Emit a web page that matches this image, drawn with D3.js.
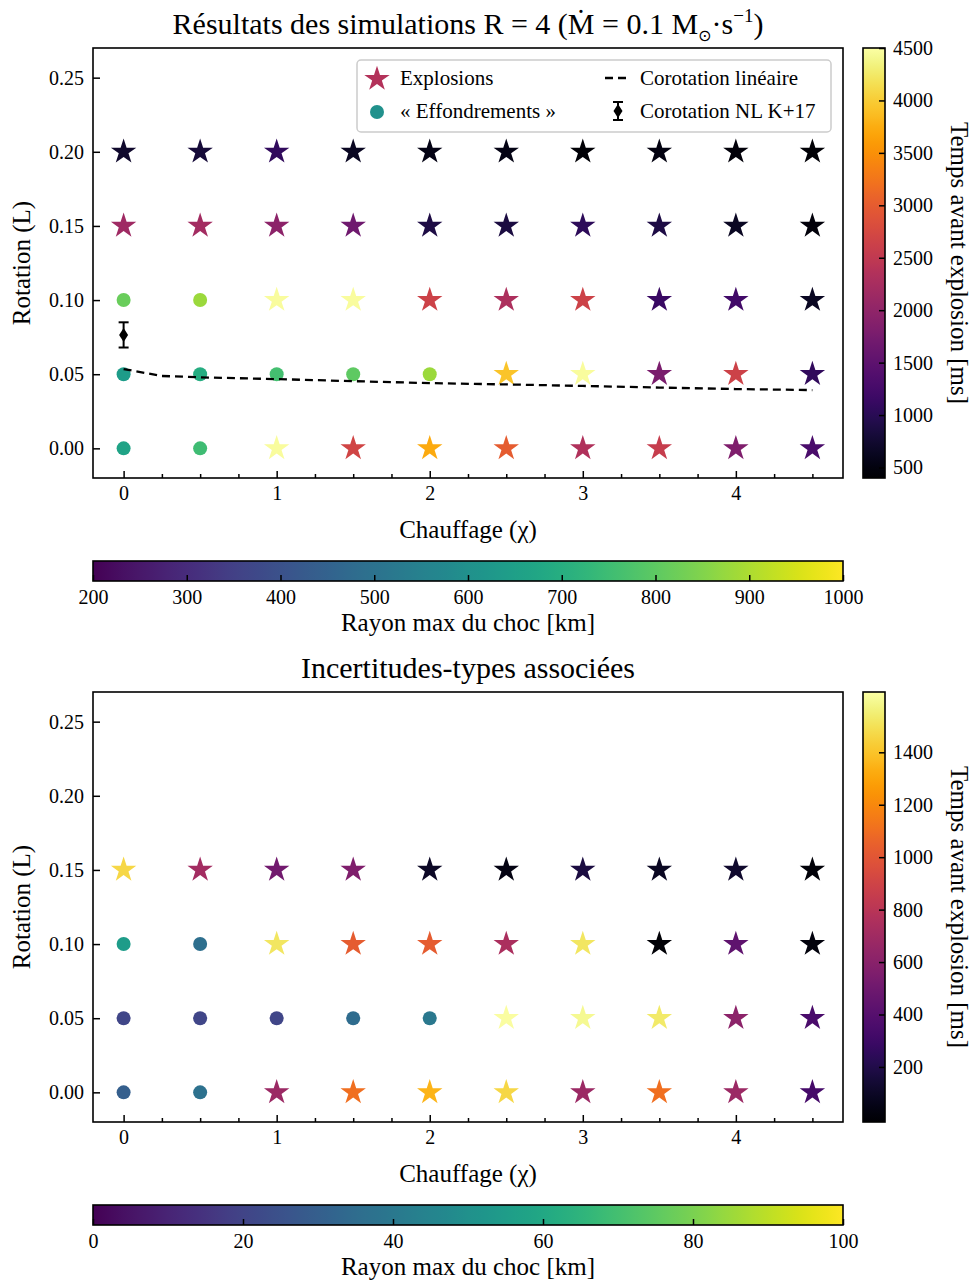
<!DOCTYPE html>
<html><head><meta charset="utf-8">
<script src="https://cdn.jsdelivr.net/npm/d3@7"></script>
<style>
body{margin:0;background:#fff}
text{font-family:"Liberation Serif","DejaVu Serif",serif;fill:#000}
</style>
</head><body><svg id="c" width="976" height="1282" xmlns="http://www.w3.org/2000/svg"></svg>
<script>
// ---------------- data ----------------
const chauffage = [0, 0.5, 1, 1.5, 2, 2.5, 3, 3.5, 4, 4.5];
const rotationTop = [0, 0.05, 0.10, 0.15, 0.20];
const rotationBottom = [0, 0.05, 0.10, 0.15];

// Time before explosion [ms] (null = collapse), rows follow rotationTop
const topTime = [
  [null, null, 4460, 2700, 3720, 2980, 2330, 2570, 1835, 1300],
  [null, null, null, null, null, 3930, 4460, 1790, 2655, 1060],
  [null, null, 4460, 4460, 2655, 2290, 2650, 1140, 1220, 650],
  [2160, 2200, 1960, 1670, 890, 850, 1035, 890, 650, 480],
  [730, 810, 1060, 650, 560, 560, 440, 520, 480, 440]
];
// Max shock radius [km] for collapses
const topShock = [
  [664, 752, null, null, null, null, null, null, null, null],
  [640, 696, 760, 800, 880, null, null, null, null, null],
  [816, 880, null, null, null, null, null, null, null, null],
  [null, null, null, null, null, null, null, null, null, null],
  [null, null, null, null, null, null, null, null, null, null]
];
// Uncertainties, rows follow rotationBottom
const botTime = [
  [null, null, 680, 1105, 1351, 1466, 680, 1105, 680, 335],
  [null, null, null, null, null, 1622, 1597, 1532, 613, 350],
  [null, null, 1515, 1023, 1023, 745, 1515, 6, 433, 23],
  [1466, 712, 515, 564, 105, 47, 170, 88, 121, 15]
];
const botShock = [
  [30, 37, null, null, null, null, null, null, null, null],
  [21, 21, 21, 35, 40, null, null, null, null, null],
  [55, 36, null, null, null, null, null, null, null, null],
  [null, null, null, null, null, null, null, null, null, null]
];

const corotX = [0, 0.25, 0.5, 1, 1.5, 2, 2.5, 3, 3.5, 4, 4.5];
const corotY = [0.0535, 0.0488, 0.0479, 0.0467, 0.0453, 0.0440, 0.0431, 0.0421, 0.0410, 0.0400, 0.0393];
const nlX = [0], nlY = [0.0765], nlErr = [0.0085];

const yTicks = [0, 0.05, 0.10, 0.15, 0.20, 0.25];
const xTicks = [0, 1, 2, 3, 4];
const xMinor = [0.25, 0.5, 0.75, 1.25, 1.5, 1.75, 2.25, 2.5, 2.75, 3.25, 3.5, 3.75, 4.25, 4.5];
const timeTicksTop = [500, 1000, 1500, 2000, 2500, 3000, 3500, 4000, 4500];
const timeTicksBot = [200, 400, 600, 800, 1000, 1200, 1400];
const shockTicksTop = [200, 300, 400, 500, 600, 700, 800, 900, 1000];
const shockTicksBot = [0, 20, 40, 60, 80, 100];

// ---------------- drawing ----------------
const svg = d3.select("#c");
const L = 93, R = 843;
const x = d3.scaleLinear([-0.2, 4.7], [L, R]);
const starSym = d3.symbol(d3.symbolStar, 200);
const TICKF = 20, LABF = 25;

function gradient(id, interp, horizontal) {
  const g = svg.append("defs").append("linearGradient").attr("id", id)
    .attr("x1", 0).attr("y1", horizontal ? 0 : 1).attr("x2", horizontal ? 1 : 0).attr("y2", 0);
  d3.range(0, 1.0001, 0.02).forEach(t => g.append("stop").attr("offset", t).attr("stop-color", interp(t)));
}
gradient("inf", d3.interpolateInferno, false);
gradient("vir", d3.interpolateViridis, true);

function panel(opt) {
  const {top, bottom, rows, times, shocks, tColor, sColor, tTicks, sTicks, cbTop, cbBot} = opt;
  const y = d3.scaleLinear([-0.02, 0.27], [bottom, top]);
  const g = svg.append("g");

  // markers
  rows.forEach((r, i) => {
    chauffage.forEach((c, j) => {
      const tv = times[i][j], sv = shocks[i][j];
      if (tv !== null) {
        g.append("path").attr("d", starSym())
          .attr("transform", `translate(${x(c)},${y(r)})`).attr("fill", tColor(tv));
      } else if (sv !== null) {
        g.append("circle").attr("cx", x(c)).attr("cy", y(r)).attr("r", 7).attr("fill", sColor(sv));
      }
    });
  });

  // axes ticks
  const ax = g.append("g").attr("transform", `translate(${L},0)`)
    .call(d3.axisLeft(y).tickValues(yTicks).tickFormat(d3.format(".2f")).tickSizeInner(-7).tickSizeOuter(0).tickPadding(9));
  const bx = g.append("g").attr("transform", `translate(0,${bottom})`)
    .call(d3.axisBottom(x).tickValues(xTicks).tickFormat(d3.format("d")).tickSizeInner(-7).tickSizeOuter(0).tickPadding(8));
  const mx = g.append("g").attr("transform", `translate(0,${bottom})`)
    .call(d3.axisBottom(x).tickValues(xMinor).tickFormat("").tickSizeInner(-4).tickSizeOuter(0));
  [ax, bx, mx].forEach(a => {
    a.select(".domain").remove();
    a.selectAll("line").attr("stroke", "#000").attr("stroke-width", 1.5);
    a.selectAll("text").attr("font-size", TICKF).attr("font-family", "Liberation Serif");
  });

  g.append("rect").attr("x", L).attr("y", top).attr("width", R - L).attr("height", bottom - top)
    .attr("fill", "none").attr("stroke", "#000").attr("stroke-width", 1.6);

  g.append("text").attr("transform", `translate(30,${(top + bottom) / 2}) rotate(-90)`)
    .attr("text-anchor", "middle").attr("font-size", LABF).text("Rotation (L)");
  g.append("text").attr("x", (L + R) / 2).attr("y", bottom + 60)
    .attr("text-anchor", "middle").attr("font-size", LABF).text("Chauffage (χ)");

  // vertical colorbar
  const cx0 = 863, cx1 = 885;
  g.append("rect").attr("x", cx0).attr("y", top).attr("width", cx1 - cx0).attr("height", bottom - top)
    .attr("fill", "url(#inf)");
  const cy = d3.scaleLinear(tColor.domain(), [bottom, top]);
  const ca = g.append("g").attr("transform", `translate(${cx1},0)`)
    .call(d3.axisRight(cy).tickValues(tTicks).tickFormat(d3.format("d")).tickSizeInner(-6).tickSizeOuter(0).tickPadding(8));
  ca.select(".domain").remove();
  ca.selectAll("line").attr("stroke", "#000").attr("stroke-width", 1.5);
  ca.selectAll("text").attr("font-size", TICKF);
  g.append("rect").attr("x", cx0).attr("y", top).attr("width", cx1 - cx0).attr("height", bottom - top)
    .attr("fill", "none").attr("stroke", "#000").attr("stroke-width", 1.6);
  g.append("text").attr("transform", `translate(951,${(top + bottom) / 2}) rotate(90)`)
    .attr("text-anchor", "middle").attr("font-size", LABF).text("Temps avant explosion [ms]");

  // horizontal colorbar
  g.append("rect").attr("x", L).attr("y", cbTop).attr("width", R - L).attr("height", cbBot - cbTop)
    .attr("fill", "url(#vir)");
  const hx = d3.scaleLinear(sColor.domain(), [L, R]);
  const ha = g.append("g").attr("transform", `translate(0,${cbBot})`)
    .call(d3.axisBottom(hx).tickValues(sTicks).tickFormat(d3.format("d")).tickSizeInner(-6).tickSizeOuter(0).tickPadding(9));
  ha.select(".domain").remove();
  ha.selectAll("line").attr("stroke", "#000").attr("stroke-width", 1.5);
  ha.selectAll("text").attr("font-size", TICKF);
  g.append("rect").attr("x", L).attr("y", cbTop).attr("width", R - L).attr("height", cbBot - cbTop)
    .attr("fill", "none").attr("stroke", "#000").attr("stroke-width", 1.6);
  g.append("text").attr("x", (L + R) / 2).attr("y", cbBot + 50)
    .attr("text-anchor", "middle").attr("font-size", LABF).text("Rayon max du choc [km]");

  return {g, y};
}

const topColorT = d3.scaleSequential(d3.interpolateInferno).domain([400, 4500]);
const topColorS = d3.scaleSequential(d3.interpolateViridis).domain([200, 1000]);
const botColorT = d3.scaleSequential(d3.interpolateInferno).domain([-10, 1630]);
const botColorS = d3.scaleSequential(d3.interpolateViridis).domain([0, 100]);

const P1 = panel({top: 48, bottom: 478, rows: rotationTop, times: topTime, shocks: topShock,
  tColor: topColorT, sColor: topColorS, tTicks: timeTicksTop, sTicks: shockTicksTop, cbTop: 561, cbBot: 581});
const P2 = panel({top: 692, bottom: 1122, rows: rotationBottom, times: botTime, shocks: botShock,
  tColor: botColorT, sColor: botColorS, tTicks: timeTicksBot, sTicks: shockTicksBot, cbTop: 1205, cbBot: 1225});

// corotation lines on top panel
const line = d3.line().x((d, i) => x(corotX[i])).y((d, i) => P1.y(corotY[i]));
P1.g.append("path").attr("d", line(corotX)).attr("fill", "none").attr("stroke", "#000")
  .attr("stroke-width", 2.3).attr("stroke-dasharray", "8,5");

function errMark(g, cx, cy, h) {
  g.append("line").attr("x1", cx).attr("x2", cx).attr("y1", cy - h).attr("y2", cy + h).attr("stroke", "#000").attr("stroke-width", 2);
  [cy - h, cy + h].forEach(v => g.append("line").attr("x1", cx - 5).attr("x2", cx + 5).attr("y1", v).attr("y2", v)
    .attr("stroke", "#000").attr("stroke-width", 2));
  g.append("path").attr("d", `M${cx},${cy - 7}L${cx + 4.5},${cy}L${cx},${cy + 7}L${cx - 4.5},${cy}Z`).attr("fill", "#000");
}
nlX.forEach((v, i) => {
  const cy = P1.y(nlY[i]);
  errMark(P1.g, x(v), cy, P1.y(nlY[i] - nlErr[i]) - cy);
});

// legend
const lg = P1.g.append("g");
lg.append("rect").attr("x", 357).attr("y", 60).attr("width", 474).attr("height", 72).attr("rx", 4)
  .attr("fill", "#fff").attr("fill-opacity", 0.8).attr("stroke", "#ccc").attr("stroke-width", 1.5);
lg.append("path").attr("d", starSym()).attr("transform", "translate(377,79)").attr("fill", d3.interpolateInferno(0.48));
lg.append("circle").attr("cx", 377).attr("cy", 112).attr("r", 7).attr("fill", d3.interpolateViridis(0.5));
lg.append("line").attr("x1", 605).attr("x2", 629).attr("y1", 78).attr("y2", 78).attr("stroke", "#000")
  .attr("stroke-width", 2.3).attr("stroke-dasharray", "8,5");
errMark(lg, 618, 111, 9);
const LF = 21;
lg.append("text").attr("x", 400).attr("y", 85).attr("font-size", LF).text("Explosions");
lg.append("text").attr("x", 400).attr("y", 118).attr("font-size", LF).text("« Effondrements »");
lg.append("text").attr("x", 640).attr("y", 85).attr("font-size", LF).text("Corotation linéaire");
lg.append("text").attr("x", 640).attr("y", 118).attr("font-size", LF).text("Corotation NL K+17");

// titles
const t1 = svg.append("text").attr("x", 468).attr("y", 34).attr("text-anchor", "middle").attr("font-size", 30);
t1.append("tspan").text("Résultats des simulations R = 4 (Ṁ = 0.1 M");
t1.append("tspan").attr("font-size", 16).attr("dy", 7).attr("font-family", "DejaVu Sans").text("⊙");
t1.append("tspan").attr("dy", -7).text("·s");
t1.append("tspan").attr("font-size", 19).attr("dy", -12).text("−1");
t1.append("tspan").attr("dy", 12).text(")");
svg.append("text").attr("x", 468).attr("y", 678).attr("text-anchor", "middle").attr("font-size", 30)
  .text("Incertitudes-types associées");
</script>
</body></html>
